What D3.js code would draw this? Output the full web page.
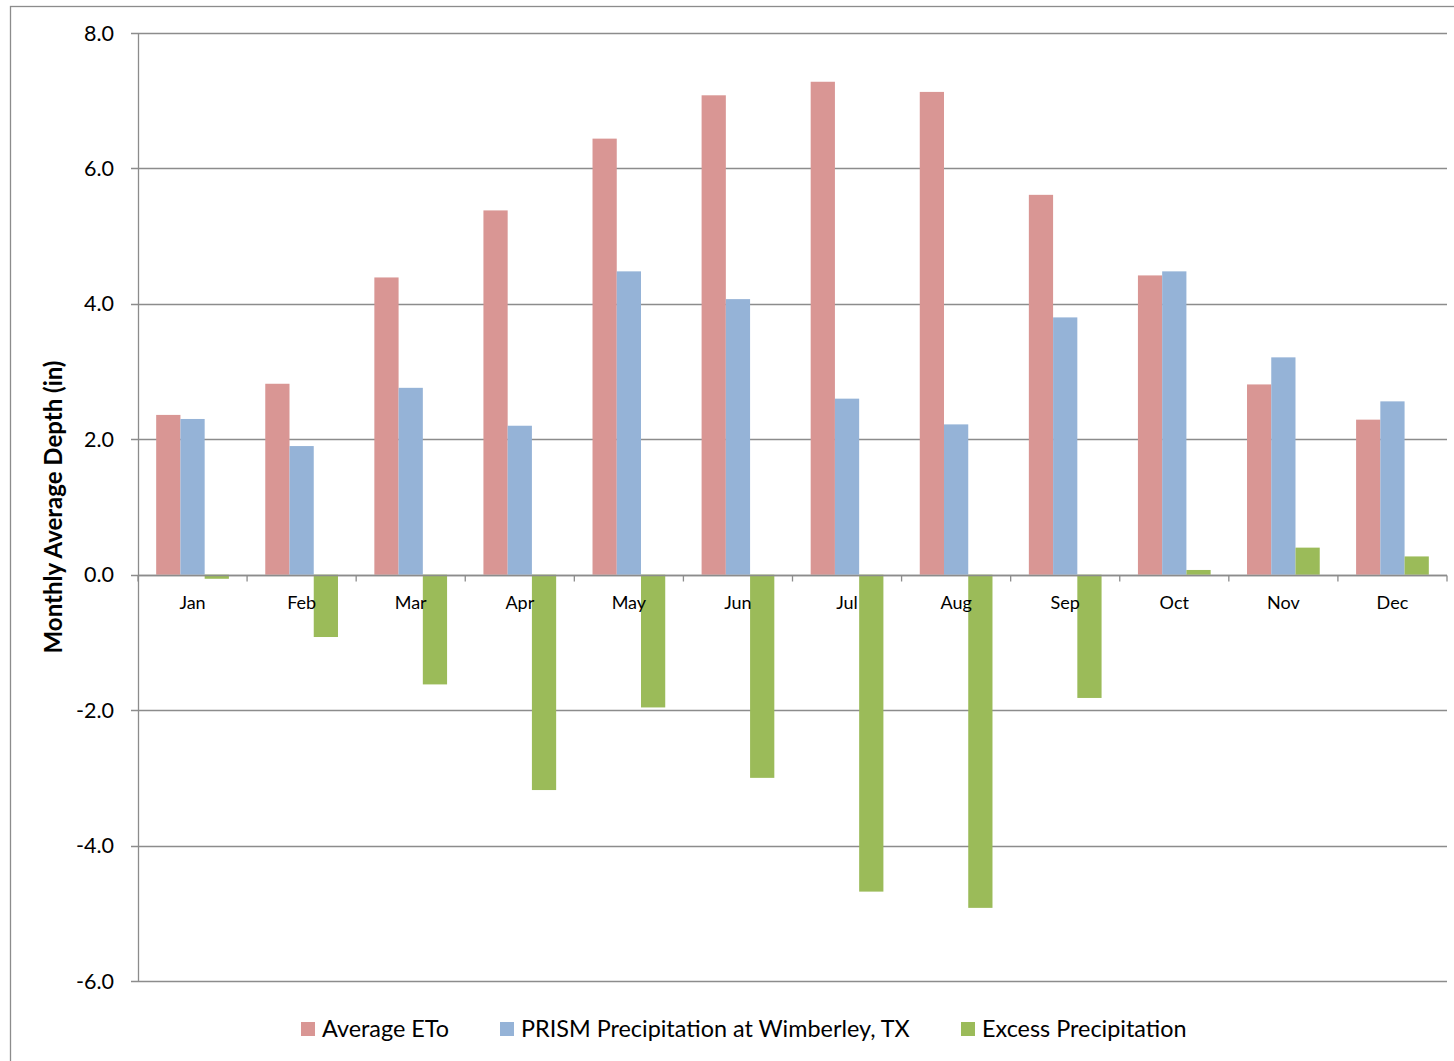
<!DOCTYPE html>
<html><head><meta charset="utf-8">
<script src="https://cdn.jsdelivr.net/npm/d3@7"></script>
<style>body{margin:0;background:#fff}svg{display:block}text{font-family:Lato,"Open Sans",sans-serif;fill:#000}</style>
</head><body><svg id="c" width="1454" height="1061"></svg>
<script>
const months = ["Jan","Feb","Mar","Apr","May","Jun","Jul","Aug","Sep","Oct","Nov","Dec"];
const seriesNames = ["Average ETo","PRISM Precipitation at Wimberley, TX","Excess Precipitation"];
const avgETo = [2.36,2.82,4.39,5.38,6.44,7.08,7.28,7.13,5.61,4.42,2.81,2.29];
const prismPrecip = [2.30,1.90,2.76,2.20,4.48,4.07,2.60,2.22,3.80,4.48,3.21,2.56];
const excessPrecip = [-0.06,-0.92,-1.62,-3.18,-1.96,-3.00,-4.68,-4.92,-1.82,0.07,0.40,0.27];
const yTicks = [-6,-4,-2,0,2,4,6,8];
const colors = ["#D99694","#95B3D7","#9BBB59"];

const svg = d3.select("#c");
// outer chart border
svg.append("rect").attr("x",10.5).attr("y",6.5).attr("width",1500).attr("height",1100)
  .attr("fill","none").attr("stroke","#8c8c8c").attr("stroke-width",1.3);

const L=138, R=1447, T=33, B=981;
const x = d3.scaleBand().domain(months).range([L,R]).paddingInner(0).paddingOuter(0);
const y = d3.scaleLinear().domain([-6,8]).range([B,T]);
const bw = x.bandwidth()/4.5;
const x1 = d3.scaleBand().domain(seriesNames).range([0,bw*3]);

// gridlines
svg.append("g").selectAll("line").data(yTicks).join("line")
  .attr("x1",L-7).attr("x2",R).attr("y1",d=>Math.round(y(d))+0.5).attr("y2",d=>Math.round(y(d))+0.5)
  .attr("stroke","#8c8c8c").attr("stroke-width",1.3);
// y tick labels
svg.append("g").selectAll("text").data(yTicks).join("text")
  .attr("x",114).attr("y",d=>y(d)+7.5).attr("text-anchor","end").attr("font-size",21.5)
  .text(d=>d.toFixed(1));
// y axis line
svg.append("line").attr("x1",L+0.5).attr("x2",L+0.5).attr("y1",T).attr("y2",B)
  .attr("stroke","#8c8c8c").attr("stroke-width",1.3);

const data = [avgETo,prismPrecip,excessPrecip];
data.forEach((vals,si)=>{
  svg.append("g").selectAll("rect").data(vals).join("rect")
    .attr("x",(d,i)=>x(months[i])+(x.bandwidth()-bw*3)/2+x1(seriesNames[si]))
    .attr("width",bw)
    .attr("y",d=>y(Math.max(0,d)))
    .attr("height",d=>Math.abs(y(d)-y(0)))
    .attr("fill",colors[si]);
});

// zero axis with ticks
const y0 = Math.round(y(0))+0.5;
svg.append("line").attr("x1",L).attr("x2",R).attr("y1",y0).attr("y2",y0)
  .attr("stroke","#8c8c8c").attr("stroke-width",1.3);
svg.append("g").selectAll("line").data(d3.range(months.length+1)).join("line")
  .attr("x1",i=>L+i*x.step()).attr("x2",i=>L+i*x.step()).attr("y1",y0).attr("y2",y0+6)
  .attr("stroke","#8c8c8c").attr("stroke-width",1.3);
svg.append("g").selectAll("text").data(months).join("text")
  .attr("x",d=>x(d)+x.bandwidth()/2).attr("y",y0+33).attr("text-anchor","middle")
  .attr("font-size",18).text(d=>d);

// y title
svg.append("text").attr("transform","translate(62,507) rotate(-90)").attr("text-anchor","middle")
  .attr("font-size",24).attr("font-weight","bold").text("Monthly Average Depth (in)");

// legend
const legX = [301,500,961];
seriesNames.forEach((n,i)=>{
  svg.append("rect").attr("x",legX[i]).attr("y",1022).attr("width",14).attr("height",14).attr("fill",colors[i]);
  svg.append("text").attr("x",legX[i]+21).attr("y",1037).attr("font-size",23.4).text(n);
});
</script></body></html>
